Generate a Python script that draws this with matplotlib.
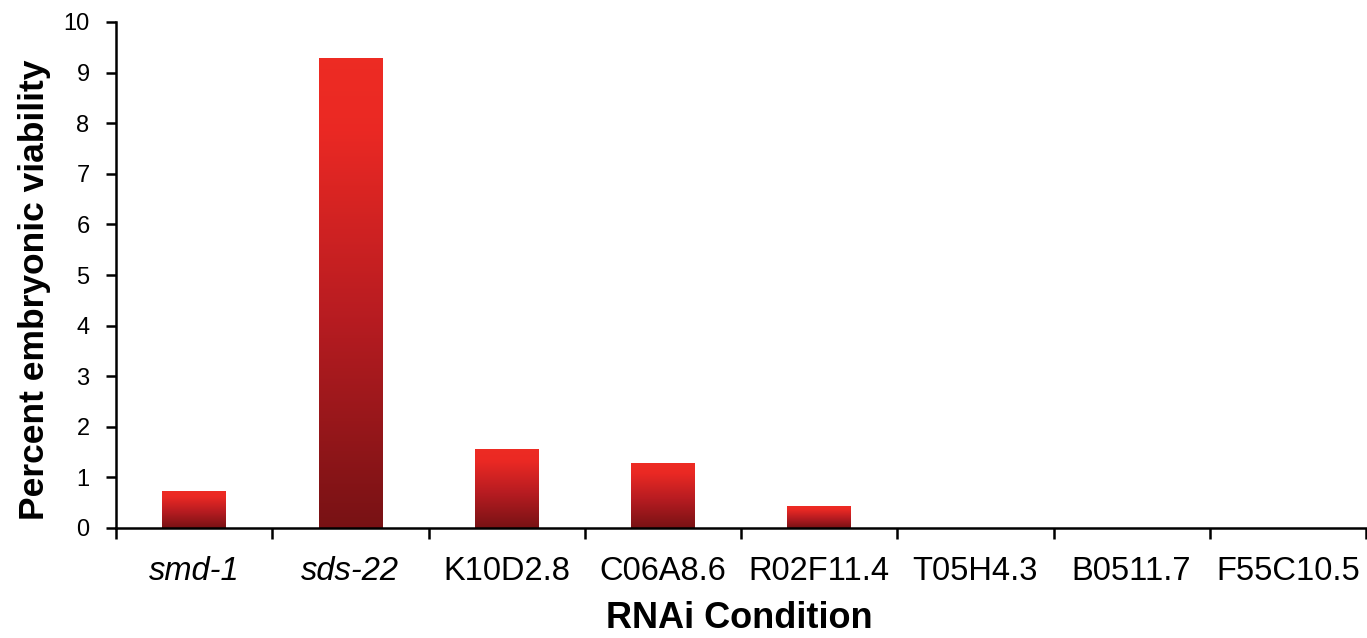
import numpy as np
import matplotlib
matplotlib.use("Agg")
import matplotlib.pyplot as plt
from matplotlib.colors import LinearSegmentedColormap

categories = ["smd-1", "sds-22", "K10D2.8", "C06A8.6", "R02F11.4", "T05H4.3", "B0511.7", "F55C10.5"]
italic_labels = ["smd-1", "sds-22"]
values = [0.73, 9.27, 1.56, 1.28, 0.43, 0.0, 0.0, 0.0]
yticks = [0, 1, 2, 3, 4, 5, 6, 7, 8, 9, 10]

plt.rcParams['font.family'] = ['Liberation Sans', 'DejaVu Sans']

W, H = 1367, 638
fig = plt.figure(figsize=(W / 100, H / 100), dpi=100)
ax = fig.add_axes([116 / W, 1 - 528 / H, 1250 / W, (528 - 22) / H])

cmap = LinearSegmentedColormap.from_list(
    "redgrad",
    [(0.0, (0.47, 0.07, 0.08)), (0.45, (0.72, 0.11, 0.13)),
     (0.85, (0.92, 0.16, 0.14)), (1.0, (0.93, 0.17, 0.14))])
grad = np.linspace(0, 1, 256).reshape(-1, 1)

x = np.arange(len(categories))
bars = ax.bar(x, values, width=0.405, color='none', edgecolor='none', zorder=2)
for b in bars:
    h = b.get_height()
    if h <= 0:
        continue
    x0 = b.get_x()
    ax.imshow(grad, cmap=cmap, origin='lower', aspect='auto',
              extent=[x0, x0 + b.get_width(), 0, h], zorder=2, interpolation='bilinear')

ax.set_xlim(-0.5, len(categories) - 0.5)
ax.set_ylim(0, 10)
ax.set_yticks(yticks)
ax.set_yticklabels([str(t) for t in yticks], fontsize=17)

ax.set_xticks(np.arange(len(categories) + 1) - 0.5)
ax.set_xticklabels([])
ax.set_xticks(x, minor=True)
ax.set_xticklabels(categories, minor=True, fontsize=23.5)
for lbl in ax.get_xticklabels(minor=True):
    if lbl.get_text() in italic_labels:
        lbl.set_fontstyle('italic')

ax.tick_params(axis='x', which='major', direction='out', length=8, width=1.8, color='black')
ax.tick_params(axis='x', which='minor', length=0, pad=20)
ax.tick_params(axis='y', direction='out', length=7, width=1.8, pad=12)

for s in ['top', 'right']:
    ax.spines[s].set_visible(False)
for s in ['left', 'bottom']:
    ax.spines[s].set_linewidth(1.8)
    ax.spines[s].set_color('black')

fig.text(35 / W, 1 - 290 / H, "Percent embryonic viability", rotation=90,
         fontsize=25.5, fontweight='bold', ha='center', va='center')
fig.text(739 / W, 1 - 619 / H, "RNAi Condition",
         fontsize=26, fontweight='bold', ha='center', va='center')

fig.savefig("out.png", dpi=100, facecolor='white')
